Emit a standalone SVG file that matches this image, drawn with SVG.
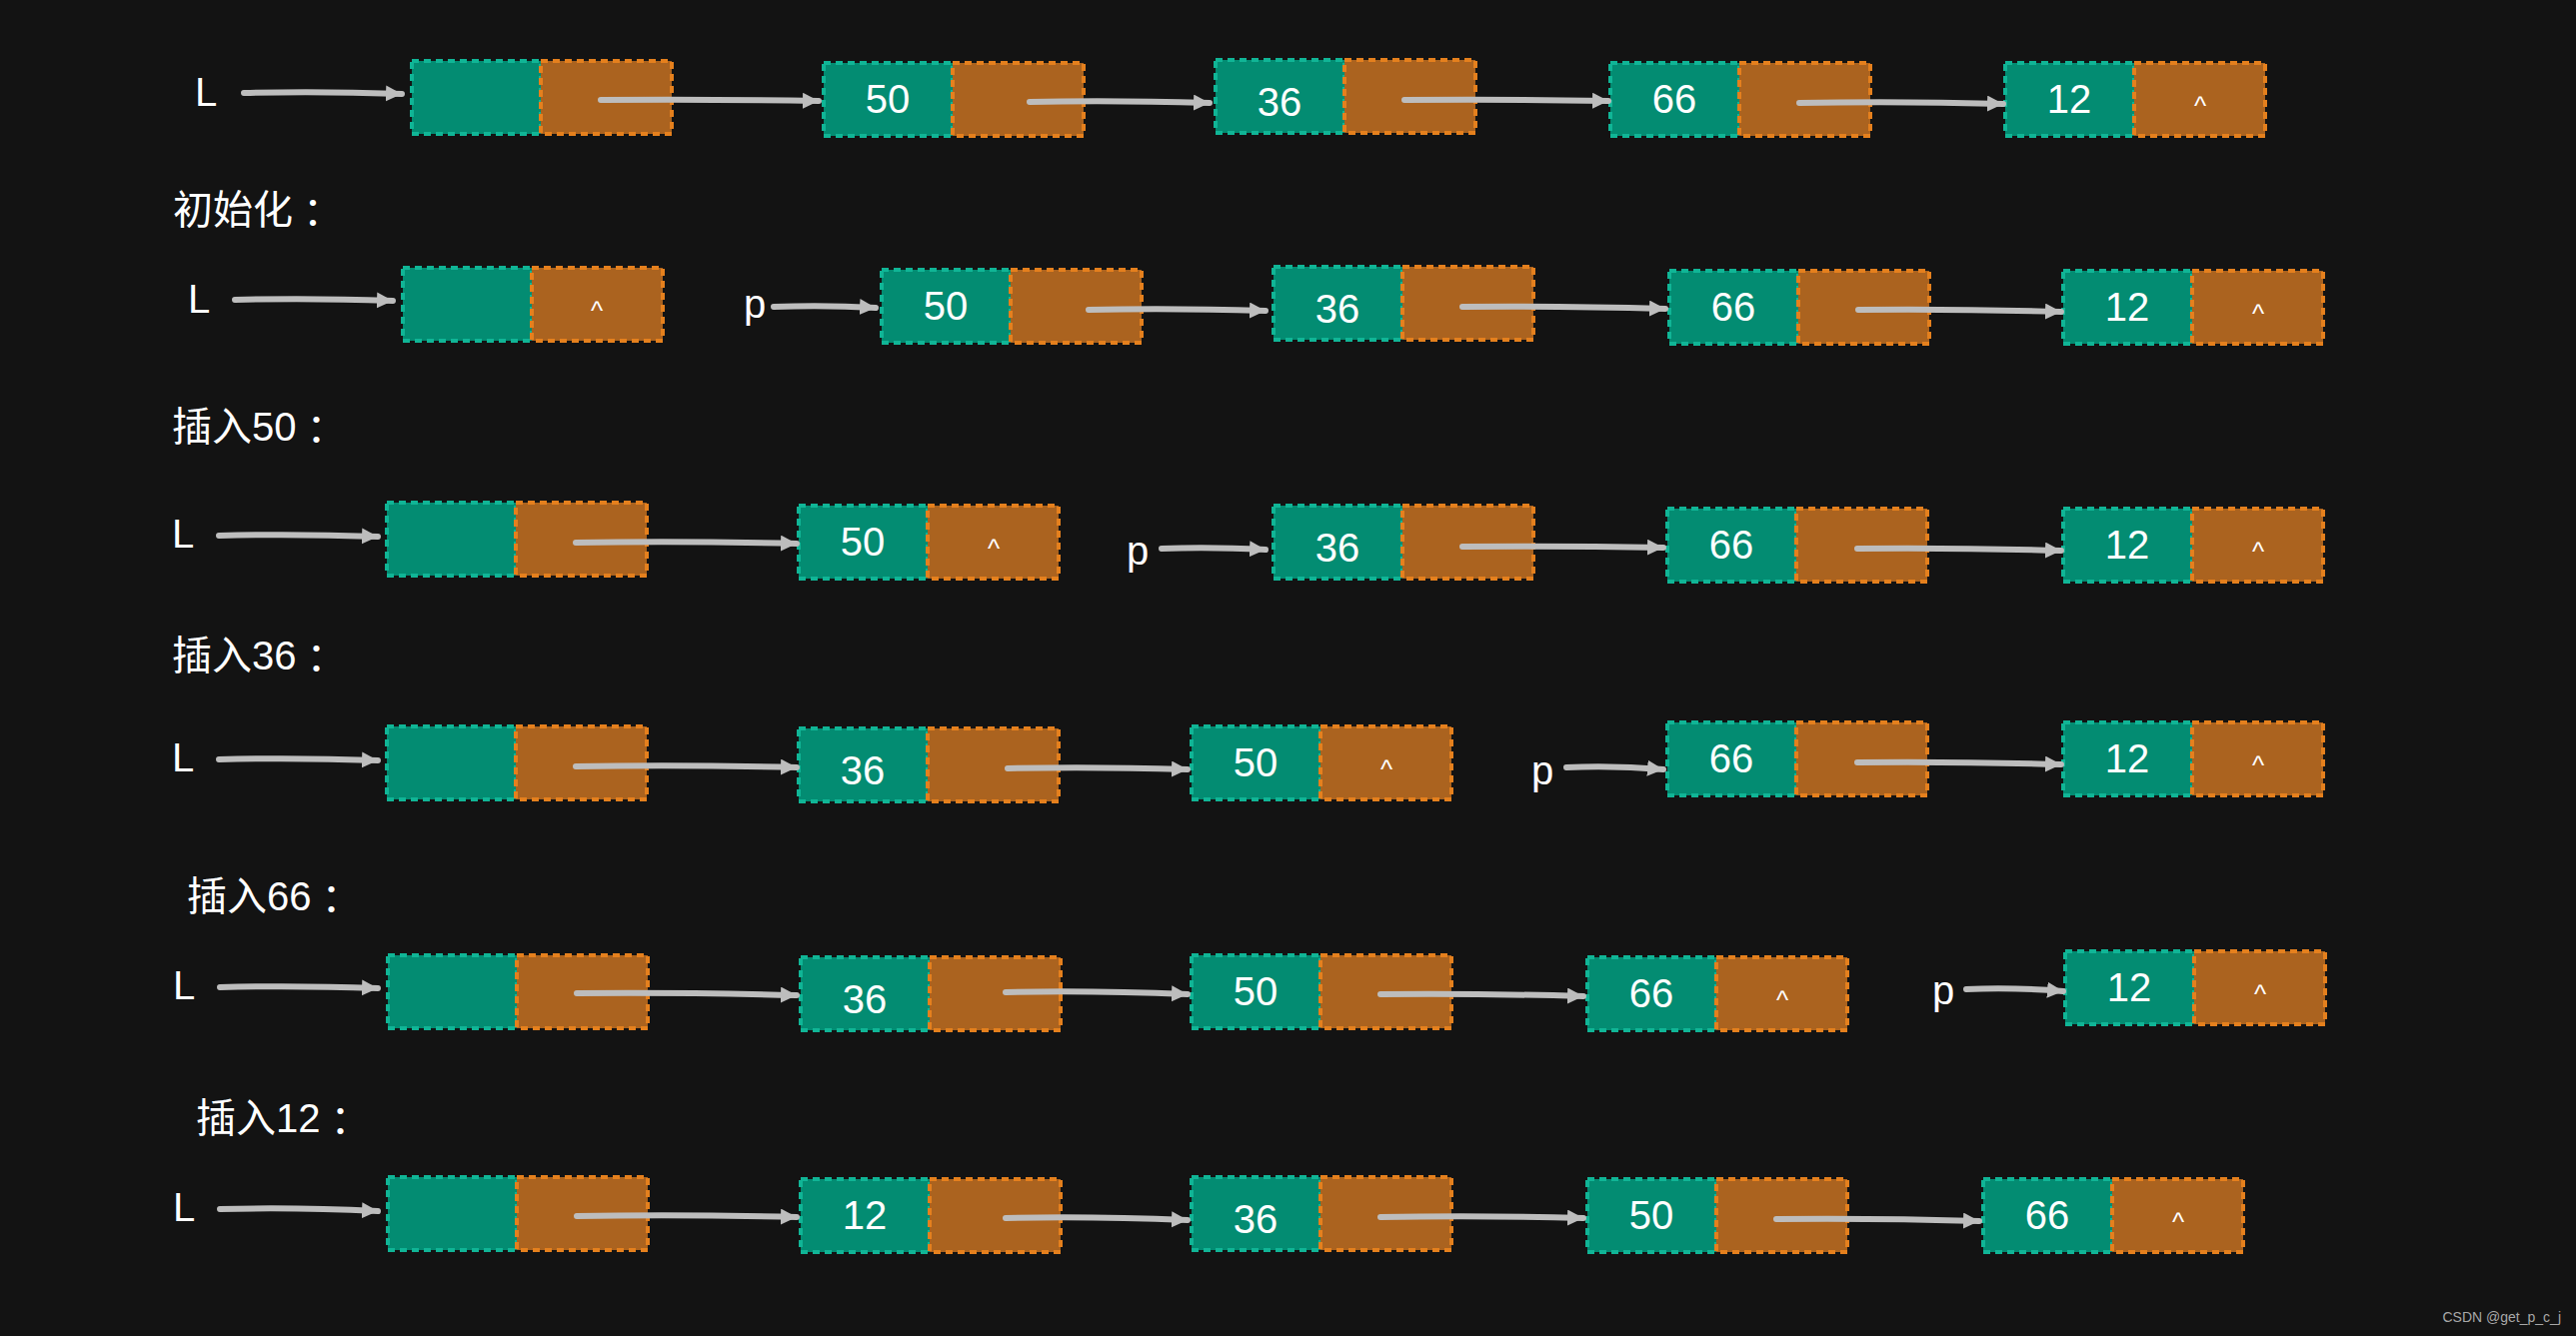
<svg xmlns="http://www.w3.org/2000/svg" width="2577" height="1337" viewBox="0 0 2577 1337">
<defs>
<style>
.g{fill:#038c72;stroke:#10b596;stroke-width:4;stroke-dasharray:7 5}
.o{fill:#ab631f;stroke:#e5801d;stroke-width:4;stroke-dasharray:7 5}
.v{fill:#ffffff;font-family:"Liberation Sans",sans-serif;font-size:40px;text-anchor:middle}
.c{fill:#ffffff;font-family:"Liberation Sans",sans-serif;font-size:26px;text-anchor:middle}
.t{fill:#ffffff;font-family:"Liberation Sans",sans-serif;font-size:40px}
.h{fill:#ffffff;font-family:"Liberation Sans","Noto Sans CJK SC",sans-serif;font-size:40px}
.k{font-family:"Noto Sans CJK TC",sans-serif}
.a{fill:none;stroke:#bdbdbd;stroke-width:6;stroke-linecap:round;marker-end:url(#ah)}
.w{fill:#a8a8a8;font-family:"Liberation Sans",sans-serif;font-size:14px;text-anchor:end}
</style>
<marker id="ah" markerUnits="userSpaceOnUse" markerWidth="20" markerHeight="20" refX="16" refY="8" orient="auto">
<path d="M0,0 L16,8 L0,16 Z" fill="#bdbdbd"/>
</marker>
</defs>
<rect width="2577" height="1337" fill="#131313"/>

<g id="labels">
<text class="h" x="173" y="224">初始化<tspan class="k" dy="4">：</tspan></text>
<text class="h" x="172" y="441">插入50<tspan class="k" dy="4">：</tspan></text>
<text class="h" x="172" y="670">插入36<tspan class="k" dy="4">：</tspan></text>
<text class="h" x="187" y="911">插入66<tspan class="k" dy="4">：</tspan></text>
<text class="h" x="196" y="1133">插入12<tspan class="k" dy="4">：</tspan></text>
</g>

<g id="pointers">
<text class="t" x="195" y="106">L</text>
<text class="t" x="188" y="313">L</text>
<text class="t" x="744" y="318">p</text>
<text class="t" x="172" y="548">L</text>
<text class="t" x="1127" y="565">p</text>
<text class="t" x="172" y="772">L</text>
<text class="t" x="1532" y="785">p</text>
<text class="t" x="173" y="1000">L</text>
<text class="t" x="1933" y="1005">p</text>
<text class="t" x="173" y="1222">L</text>
</g>

<!-- Row 1 -->
<g id="r1-head"><rect class="g" x="412" y="61" width="129" height="73"/><rect class="o" x="541" y="61" width="131" height="73"/></g>
<g id="r1-50"><rect class="g" x="824" y="63" width="129" height="73"/><rect class="o" x="953" y="63" width="131" height="73"/><text class="v" x="888" y="113">50</text></g>
<g id="r1-36"><rect class="g" x="1216" y="60" width="129" height="73"/><rect class="o" x="1345" y="60" width="131" height="73"/><text class="v" x="1280" y="116">36</text></g>
<g id="r1-66"><rect class="g" x="1611" y="63" width="129" height="73"/><rect class="o" x="1740" y="63" width="131" height="73"/><text class="v" x="1675" y="113">66</text></g>
<g id="r1-12"><rect class="g" x="2006" y="63" width="129" height="73"/><rect class="o" x="2135" y="63" width="131" height="73"/><text class="v" x="2070" y="113">12</text><text class="c" x="2201" y="115">^</text></g>

<!-- Row 2 -->
<g id="r2-head"><rect class="g" x="403" y="268" width="129" height="73"/><rect class="o" x="532" y="268" width="131" height="73"/><text class="c" x="597" y="320">^</text></g>
<g id="r2-50"><rect class="g" x="882" y="270" width="129" height="73"/><rect class="o" x="1011" y="270" width="131" height="73"/><text class="v" x="946" y="320">50</text></g>
<g id="r2-36"><rect class="g" x="1274" y="267" width="129" height="73"/><rect class="o" x="1403" y="267" width="131" height="73"/><text class="v" x="1338" y="323">36</text></g>
<g id="r2-66"><rect class="g" x="1670" y="271" width="129" height="73"/><rect class="o" x="1799" y="271" width="131" height="73"/><text class="v" x="1734" y="321">66</text></g>
<g id="r2-12"><rect class="g" x="2064" y="271" width="129" height="73"/><rect class="o" x="2193" y="271" width="131" height="73"/><text class="v" x="2128" y="321">12</text><text class="c" x="2259" y="323">^</text></g>

<!-- Row 3 -->
<g id="r3-head"><rect class="g" x="387" y="503" width="129" height="73"/><rect class="o" x="516" y="503" width="131" height="73"/></g>
<g id="r3-50"><rect class="g" x="799" y="506" width="129" height="73"/><rect class="o" x="928" y="506" width="131" height="73"/><text class="v" x="863" y="556">50</text><text class="c" x="994" y="558">^</text></g>
<g id="r3-36"><rect class="g" x="1274" y="506" width="129" height="73"/><rect class="o" x="1403" y="506" width="131" height="73"/><text class="v" x="1338" y="562">36</text></g>
<g id="r3-66"><rect class="g" x="1668" y="509" width="129" height="73"/><rect class="o" x="1797" y="509" width="131" height="73"/><text class="v" x="1732" y="559">66</text></g>
<g id="r3-12"><rect class="g" x="2064" y="509" width="129" height="73"/><rect class="o" x="2193" y="509" width="131" height="73"/><text class="v" x="2128" y="559">12</text><text class="c" x="2259" y="561">^</text></g>

<!-- Row 4 -->
<g id="r4-head"><rect class="g" x="387" y="727" width="129" height="73"/><rect class="o" x="516" y="727" width="131" height="73"/></g>
<g id="r4-36"><rect class="g" x="799" y="729" width="129" height="73"/><rect class="o" x="928" y="729" width="131" height="73"/><text class="v" x="863" y="785">36</text></g>
<g id="r4-50"><rect class="g" x="1192" y="727" width="129" height="73"/><rect class="o" x="1321" y="727" width="131" height="73"/><text class="v" x="1256" y="777">50</text><text class="c" x="1387" y="779">^</text></g>
<g id="r4-66"><rect class="g" x="1668" y="723" width="129" height="73"/><rect class="o" x="1797" y="723" width="131" height="73"/><text class="v" x="1732" y="773">66</text></g>
<g id="r4-12"><rect class="g" x="2064" y="723" width="129" height="73"/><rect class="o" x="2193" y="723" width="131" height="73"/><text class="v" x="2128" y="773">12</text><text class="c" x="2259" y="775">^</text></g>

<!-- Row 5 -->
<g id="r5-head"><rect class="g" x="388" y="956" width="129" height="73"/><rect class="o" x="517" y="956" width="131" height="73"/></g>
<g id="r5-36"><rect class="g" x="801" y="958" width="129" height="73"/><rect class="o" x="930" y="958" width="131" height="73"/><text class="v" x="865" y="1014">36</text></g>
<g id="r5-50"><rect class="g" x="1192" y="956" width="129" height="73"/><rect class="o" x="1321" y="956" width="131" height="73"/><text class="v" x="1256" y="1006">50</text></g>
<g id="r5-66"><rect class="g" x="1588" y="958" width="129" height="73"/><rect class="o" x="1717" y="958" width="131" height="73"/><text class="v" x="1652" y="1008">66</text><text class="c" x="1783" y="1010">^</text></g>
<g id="r5-12"><rect class="g" x="2066" y="952" width="129" height="73"/><rect class="o" x="2195" y="952" width="131" height="73"/><text class="v" x="2130" y="1002">12</text><text class="c" x="2261" y="1004">^</text></g>

<!-- Row 6 -->
<g id="r6-head"><rect class="g" x="388" y="1178" width="129" height="73"/><rect class="o" x="517" y="1178" width="131" height="73"/></g>
<g id="r6-12"><rect class="g" x="801" y="1180" width="129" height="73"/><rect class="o" x="930" y="1180" width="131" height="73"/><text class="v" x="865" y="1230">12</text></g>
<g id="r6-36"><rect class="g" x="1192" y="1178" width="129" height="73"/><rect class="o" x="1321" y="1178" width="131" height="73"/><text class="v" x="1256" y="1234">36</text></g>
<g id="r6-50"><rect class="g" x="1588" y="1180" width="129" height="73"/><rect class="o" x="1717" y="1180" width="131" height="73"/><text class="v" x="1652" y="1230">50</text></g>
<g id="r6-66"><rect class="g" x="1984" y="1180" width="129" height="73"/><rect class="o" x="2113" y="1180" width="131" height="73"/><text class="v" x="2048" y="1230">66</text><text class="c" x="2179" y="1232">^</text></g>

<g id="connectors">
<path class="a" d="M244,93 Q320,91 402,94"/>
<path class="a" d="M601,100 Q700,99 819,101"/>
<path class="a" d="M1030,102 Q1110,100 1210,103"/>
<path class="a" d="M1405,100 Q1500,99 1609,101"/>
<path class="a" d="M1800,103 Q1900,101 2004,104"/>

<path class="a" d="M235,300 Q310,298 393,301"/>
<path class="a" d="M774,307 Q825,305 876,308"/>
<path class="a" d="M1089,310 Q1170,308 1266,311"/>
<path class="a" d="M1463,307 Q1560,306 1666,309"/>
<path class="a" d="M1859,310 Q1960,309 2062,312"/>

<path class="a" d="M219,536 Q295,534 378,537"/>
<path class="a" d="M576,543 Q680,541 797,544"/>
<path class="a" d="M1162,549 Q1210,547 1266,550"/>
<path class="a" d="M1463,547 Q1560,546 1664,548"/>
<path class="a" d="M1858,549 Q1960,548 2062,551"/>

<path class="a" d="M219,760 Q295,758 378,761"/>
<path class="a" d="M576,767 Q680,765 797,768"/>
<path class="a" d="M1008,769 Q1090,767 1188,770"/>
<path class="a" d="M1567,768 Q1615,766 1664,770"/>
<path class="a" d="M1858,763 Q1960,762 2062,765"/>

<path class="a" d="M220,988 Q295,986 378,989"/>
<path class="a" d="M577,994 Q680,993 797,996"/>
<path class="a" d="M1006,993 Q1090,991 1188,995"/>
<path class="a" d="M1381,995 Q1480,994 1584,997"/>
<path class="a" d="M1967,990 Q2015,988 2064,992"/>

<path class="a" d="M220,1210 Q295,1208 378,1212"/>
<path class="a" d="M577,1217 Q680,1215 797,1218"/>
<path class="a" d="M1006,1219 Q1090,1217 1188,1221"/>
<path class="a" d="M1381,1218 Q1480,1216 1584,1219"/>
<path class="a" d="M1777,1220 Q1880,1219 1980,1222"/>
</g>

<text class="w" x="2562" y="1323">CSDN @get_p_c_j</text>
</svg>
